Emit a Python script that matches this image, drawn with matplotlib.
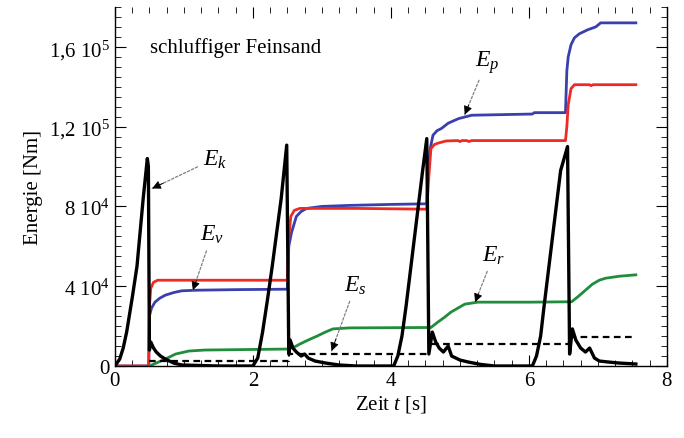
import numpy as np
import matplotlib
matplotlib.use('Agg')
import matplotlib.pyplot as plt
from matplotlib.ticker import MultipleLocator

plt.rcParams['font.family'] = ['Liberation Serif', 'DejaVu Serif']
plt.rcParams['mathtext.fontset'] = 'custom'
plt.rcParams['mathtext.rm'] = 'Liberation Serif'
plt.rcParams['mathtext.it'] = 'Liberation Serif:italic'

# kinetic energy E_k (black)
ek_t = [0, 0.07, 0.12, 0.17, 0.25, 0.32, 0.41, 0.47, 0.485, 0.50, 0.52, 0.56, 0.60, 0.66, 0.73, 0.85, 0.97, 1.5, 2.0,
        2.07, 2.14, 2.21, 2.28, 2.41, 2.49, 2.52, 2.54, 2.58, 2.63, 2.70, 2.75, 2.80, 2.90, 3.05, 3.25, 3.5, 4.04,
        4.10, 4.16, 4.22, 4.34, 4.46, 4.52, 4.55, 4.60, 4.65, 4.70, 4.76, 4.83, 4.88, 5.0, 5.12, 5.3, 5.5, 6.05,
        6.11, 6.17, 6.22, 6.34, 6.46, 6.56, 6.59, 6.63, 6.68, 6.75, 6.82, 6.88, 6.95, 7.02, 7.15, 7.3, 7.55]
ek_e = [0, 3.5e3, 9e3, 1.7e4, 3.4e4, 5.0e4, 8.4e4, 1.04e5, 1.0e5, 8e3, 1.2e4, 9e3, 7e3, 5e3, 3.5e3, 1.5e3, 5e2, 0, 0,
        4e3, 1.7e4, 3.3e4, 5.0e4, 8.4e4, 1.107e5, 6e3, 1.3e4, 9e3, 7e3, 5e3, 6e3, 4e3, 2.5e3, 1.5e3, 5e2, 0, 0,
        5e3, 1.5e4, 3.0e4, 6.4e4, 9.8e4, 1.14e5, 6e3, 1.7e4, 1.2e4, 9e3, 7e3, 1.0e4, 5e3, 3e3, 2e3, 8e2, 0, 0,
        5e3, 1.5e4, 3.0e4, 6.4e4, 9.8e4, 1.10e5, 6e3, 1.86e4, 1.3e4, 9e3, 7e3, 9e3, 4e3, 2.5e3, 2e3, 1.5e3, 1e3]

# red curve
red_t = [0, 0.49, 0.50, 0.52, 0.56, 0.62, 1.5, 2.50, 2.52, 2.55, 2.60, 2.68, 3.5, 4.52, 4.55, 4.58,
         4.63, 4.68, 4.80, 4.97, 5.00, 5.03, 5.10, 5.13, 5.17, 5.5, 6.53, 6.55, 6.57, 6.61, 6.66,
         6.88, 6.90, 6.93, 7.55]
red_e = [0, 0, 3.0e4, 3.9e4, 4.2e4, 4.3e4, 4.3e4, 4.3e4, 6.5e4, 7.5e4, 7.8e4, 7.9e4, 7.9e4, 7.86e4,
         9.5e4, 1.09e5, 1.11e5, 1.117e5, 1.128e5, 1.13e5, 1.125e5, 1.13e5, 1.13e5, 1.125e5, 1.13e5,
         1.13e5, 1.13e5, 1.2e5, 1.31e5, 1.39e5, 1.41e5, 1.41e5, 1.405e5, 1.41e5, 1.41e5]

# blue curve
blue_t = [0, 0.49, 0.50, 0.53, 0.58, 0.65, 0.73, 0.85, 0.97, 1.2, 1.8, 2.50, 2.52, 2.56, 2.63, 2.70,
          2.78, 3.0, 3.4, 4.0, 4.52, 4.54, 4.57, 4.61, 4.67, 4.73, 4.83, 4.98, 5.17, 6.05, 6.08, 6.53,
          6.55, 6.57, 6.61, 6.66, 6.73, 6.85, 6.97, 7.04, 7.55]
blue_e = [0, 0, 2.5e4, 2.9e4, 3.2e4, 3.4e4, 3.55e4, 3.68e4, 3.77e4, 3.8e4, 3.83e4, 3.85e4, 6.0e4,
          6.7e4, 7.5e4, 7.75e4, 7.9e4, 8.0e4, 8.05e4, 8.1e4, 8.13e4, 1.0e5, 1.09e5, 1.157e5, 1.18e5,
          1.19e5, 1.217e5, 1.24e5, 1.257e5, 1.263e5, 1.27e5, 1.27e5, 1.48e5, 1.55e5, 1.61e5, 1.645e5,
          1.665e5, 1.685e5, 1.70e5, 1.72e5, 1.72e5]

# green curve E_r
green_t = [0.5, 0.6, 0.73, 0.88, 1.07, 1.3, 2.5, 2.6, 2.68, 2.8, 2.93, 3.05, 3.16, 3.4, 4.58, 4.68,
           4.78, 4.87, 4.97, 5.07, 5.26, 6.0, 6.62, 6.72, 6.82, 6.92, 7.02, 7.11, 7.31, 7.55]
green_e = [0, 1.5e3, 3.5e3, 6e3, 7.5e3, 8e3, 8.5e3, 9.5e3, 1.1e4, 1.3e4, 1.5e4, 1.7e4, 1.86e4, 1.91e4,
           1.93e4, 2.2e4, 2.45e4, 2.7e4, 2.9e4, 3.1e4, 3.2e4, 3.2e4, 3.22e4, 3.5e4, 3.8e4, 4.1e4,
           4.3e4, 4.4e4, 4.5e4, 4.57e4]

# dashed step curve E_s
es_t = [0.5, 2.52, 4.55, 6.58, 7.55]
es_e = [2.5e3, 6e3, 1.1e4, 1.46e4, 1.46e4]

ytick_vals = [0, 4e4, 8e4, 1.2e5, 1.6e5]
ytick_labels = ['0', r'4 10$^4$', r'8 10$^4$', r'1,2 10$^5$', r'1,6 10$^5$']

# label, arrow tip, text position
labels = ['$E_k$', '$E_v$', '$E_s$', '$E_p$', '$E_r$']
label_tip = [(0.54, 8.9e4), (1.13, 3.8e4), (3.14, 7.5e3), (5.07, 1.26e5), (5.22, 3.2e4)]
label_pos = [(1.45, 1.04e5), (1.41, 6.6e4), (3.49, 4.07e4), (5.39, 1.526e5), (5.49, 5.57e4)]

fig = plt.figure(figsize=(6.84, 4.39), dpi=100)
ax = fig.add_axes([0.168, 0.164, 0.807, 0.818])

ax.plot(blue_t, blue_e, color='#3a3fae', lw=2.0)
ax.plot(red_t, red_e, color='#ee2a24', lw=2.0)
ax.plot(green_t, green_e, color='#1f8d3c', lw=2.0)
ax.plot(es_t, es_e, color='black', lw=1.6, ls=(0, (3, 2)), drawstyle='steps-post')
ax.plot(ek_t, ek_e, color='black', lw=2.4)

ax.set_xlim(0, 8)
ax.set_ylim(0, 1.8e5)
ax.set_xticks([0, 2, 4, 6, 8])
ax.xaxis.set_minor_locator(MultipleLocator(0.25))
ax.set_yticks(ytick_vals)
ax.set_yticklabels(ytick_labels)
ax.yaxis.set_minor_locator(MultipleLocator(5e3))
ax.tick_params(which='both', direction='in', top=True, right=True, labelsize=15)
ax.tick_params(which='major', length=8)
ax.tick_params(which='minor', length=4)
ax.spines['top'].set_visible(False)
for s in ['left', 'right', 'bottom']:
    ax.spines[s].set_linewidth(1.0)

ax.set_xlabel('Zeit $t$ [s]', fontsize=15, labelpad=2)
ax.set_ylabel('Energie [Nm]', fontsize=15, labelpad=4)

ax.text(0.51, 1.6e5, 'schluffiger Feinsand', fontsize=15, ha='left', va='center')

# labels: grey dashed leader + black filled head
for lab, tip, pos in zip(labels, label_tip, label_pos):
    ax.annotate(lab, xy=tip, xytext=pos, fontsize=17, ha='center', va='center',
                arrowprops=dict(arrowstyle='-', ls=(0, (2, 1.5)), lw=0.9, color='0.5', shrinkB=0))
    near = (tip[0] + 0.18 * (pos[0] - tip[0]), tip[1] + 0.18 * (pos[1] - tip[1]))
    ax.annotate('', xy=tip, xytext=near,
                arrowprops=dict(arrowstyle='-|>', lw=0.6, color='black', mutation_scale=13,
                                shrinkA=0, shrinkB=0))

fig.savefig('out.png', dpi=100)
